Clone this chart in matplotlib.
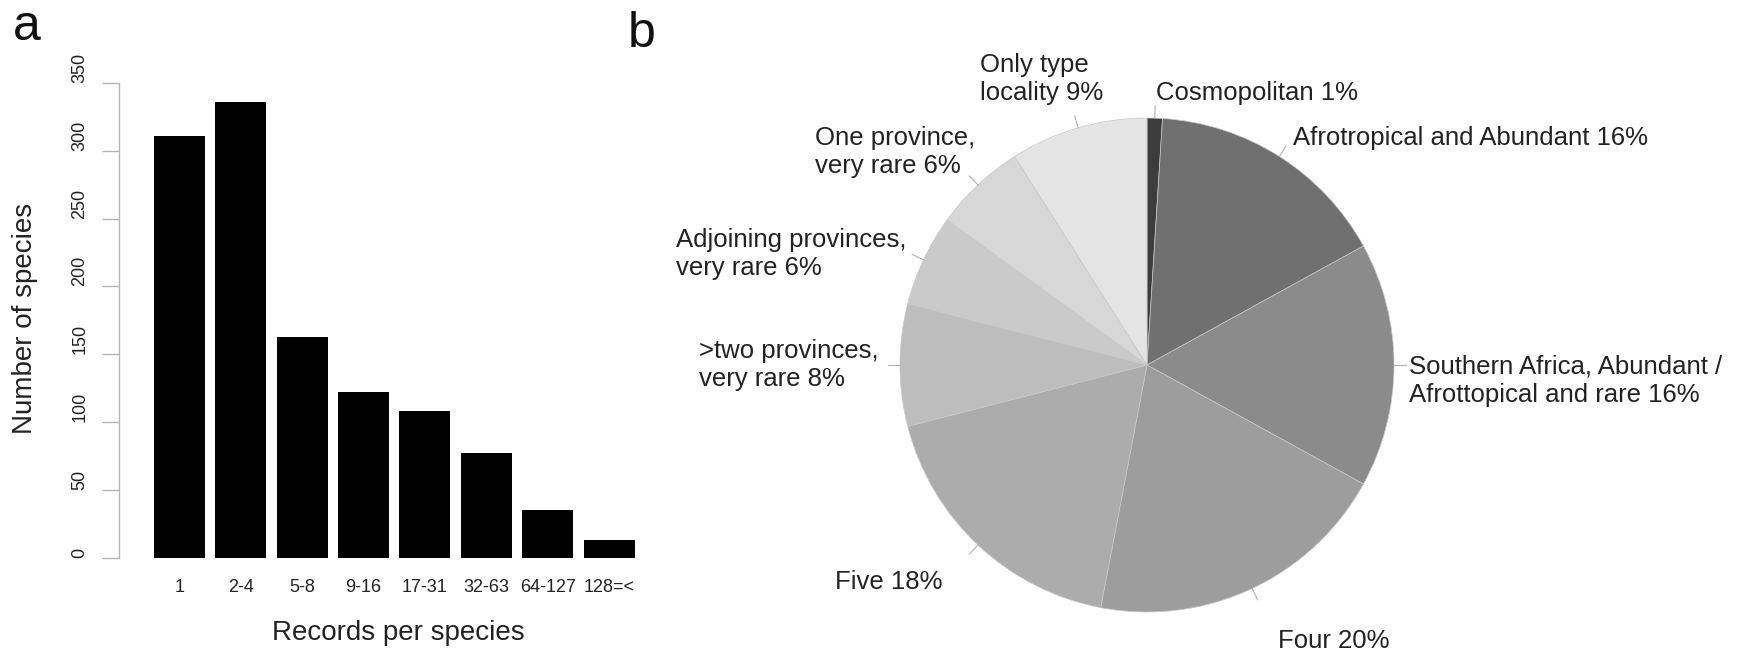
import matplotlib
matplotlib.use('Agg')
import matplotlib.pyplot as plt
import numpy as np

plt.rcParams['font.family'] = ['Liberation Sans', 'DejaVu Sans']

# panel a: records per species
record_bins = ['1', '2-4', '5-8', '9-16', '17-31', '32-63', '64-127', '128=<']
species_counts = [311, 336, 163, 122, 108, 77, 35, 13]
count_ticks = [0, 50, 100, 150, 200, 250, 300, 350]

# panel b: distribution classes
dist_labels = [
    'Cosmopolitan 1%',
    'Afrotropical and Abundant 16%',
    'Southern Africa, Abundant /\nAfrottopical and rare 16%',
    'Four 20%',
    'Five 18%',
    '>two provinces,\nvery rare 8%',
    'Adjoining provinces,\nvery rare 6%',
    'One province,\nvery rare 6%',
    'Only type\nlocality 9%',
]
dist_shares = [1, 16, 16, 20, 18, 8, 6, 6, 9]

dist_greys = ['#3c3c3c', '#707070', '#8b8b8b', '#9d9d9d', '#acacac',
              '#bdbdbd', '#cacaca', '#d7d7d7', '#e4e4e4']
# pixel nudges of the labels away from the default 1.1 radius spot
label_nudge = [(0, 0), (0, -2), (-10, -16), (15, -30), (-19, -19),
               (3, 0), (5, -5), (14, 15), (32, 25)]

W, H, DPI = 1758, 651, 100


def px_box(left, top, width, height):
    return [left / W, (H - top - height) / H, width / W, height / H]


def draw_bars(fig):
    ax = fig.add_axes(px_box(119, 82.7, 521, 475.3))
    x = np.arange(len(species_counts))
    ax.bar(x, species_counts, width=1 / 1.2, color='black')
    ax.set_xlim(-0.982, 7.503)
    ax.set_ylim(0, 350)
    for side in ['top', 'right', 'bottom']:
        ax.spines[side].set_visible(False)
    ax.spines['left'].set_color('#b5b5b5')
    ax.spines['left'].set_linewidth(1)
    ax.set_yticks(count_ticks)
    ax.tick_params(axis='y', length=12, width=1, color='#b5b5b5', labelsize=13,
                   labelcolor='#222222', labelrotation=90, pad=10)
    for lbl in ax.get_yticklabels():
        lbl.set_va('bottom')
    ax.set_xticks(x, record_bins)
    ax.tick_params(axis='x', length=0, labelsize=13, labelcolor='#222222', pad=15)
    fig.text(398 / W, (H - 633) / H, 'Records per species', fontsize=20,
             ha='center', va='center', color='#222222')
    fig.text(25 / W, (H - 318) / H, 'Number of species', fontsize=20,
             rotation=90, ha='center', va='center', color='#222222')


def draw_pie(fig):
    ax = fig.add_axes(px_box(900, 118, 494, 494))
    wedges, _ = ax.pie(dist_shares, colors=dist_greys, startangle=90,
                       counterclock=False,
                       wedgeprops=dict(edgecolor='#c8c8c8', linewidth=0.5))
    ax.set_aspect('auto')
    ax.set_xlim(-1, 1)
    ax.set_ylim(-1, 1)
    ax.axis('off')
    for w, lab, (dx, dy) in zip(wedges, dist_labels, label_nudge):
        ang = np.deg2rad((w.theta1 + w.theta2) / 2)
        c, s = np.cos(ang), np.sin(ang)
        ax.plot([c, 1.05 * c], [s, 1.05 * s], color='#b0b0b0', lw=0.8,
                clip_on=False)
        ax.annotate(lab, xy=(1.1 * c, 1.1 * s), xytext=(dx, dy),
                    textcoords='offset pixels',
                    ha='left' if c > 0 else 'right', va='center',
                    multialignment='left', linespacing=1.22,
                    fontsize=18.5, color='#222222', annotation_clip=False)


def main():
    fig = plt.figure(figsize=(W / DPI, H / DPI), dpi=DPI)
    draw_bars(fig)
    draw_pie(fig)
    fig.text(13 / W, (H - 40) / H, 'a', fontsize=36, va='baseline', color='#111111')
    fig.text(628 / W, (H - 47) / H, 'b', fontsize=36, va='baseline', color='#111111')
    fig.savefig('out.png', dpi=DPI)


if __name__ == "__main__":
    main()
